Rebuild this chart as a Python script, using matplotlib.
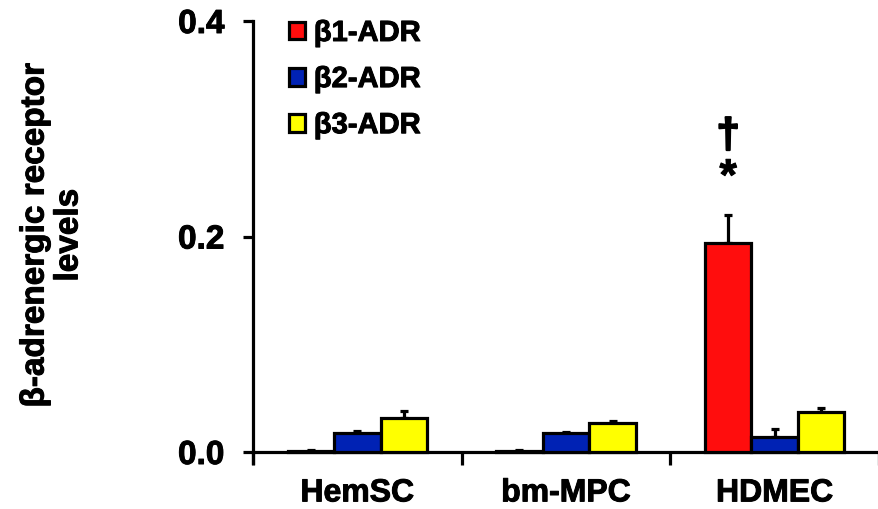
import matplotlib
matplotlib.use("Agg")
import matplotlib.pyplot as plt
from matplotlib.patches import Patch
import matplotlib.patheffects as pe
import numpy as np

categories = ["HemSC", "bm-MPC", "HDMEC"]
series = ["β1-ADR", "β2-ADR", "β3-ADR"]
colors = ["#ff0d0d", "#0022b4", "#ffff00"]
values = {
    "β1-ADR": [0.001, 0.001, 0.194],
    "β2-ADR": [0.018, 0.018, 0.0136],
    "β3-ADR": [0.032, 0.0266, 0.0368],
}
errors = {
    "β1-ADR": [0.0005, 0.0005, 0.026],
    "β2-ADR": [0.0015, 0.001, 0.008],
    "β3-ADR": [0.006, 0.002, 0.004],
}
yticks = [0.0, 0.2, 0.4]
ytick_labels = ["0.0", "0.2", "0.4"]

plt.rcParams["font.family"] = ["Liberation Sans", "DejaVu Sans"]
plt.rcParams["font.weight"] = "bold"
thick = [pe.withStroke(linewidth=0.7, foreground="black")]

W, H = 879, 510
fig = plt.figure(figsize=(W / 100, H / 100), dpi=100)
ymin = -0.01
px_per_unit = 1078.5
bottom_px = 453 + (-ymin) * px_per_unit
ax = fig.add_axes([253 / W, (H - bottom_px) / H, (W - 253) / W, (bottom_px - 22) / H])

bw = 0.223
x = np.arange(len(categories)) + 0.5
for k, s in enumerate(series):
    pos = x + (k - 1) * bw
    ax.bar(pos, values[s], width=bw, color=colors[k], edgecolor="black", linewidth=2.3, zorder=3)
    ax.errorbar(pos, values[s], yerr=[np.zeros(len(categories)), errors[s]], fmt="none",
                ecolor="black", elinewidth=2.3, capsize=3.0, capthick=2.3, zorder=2)

ax.set_xlim(0, (W - 253) / 210.5)
ax.set_ylim(ymin, 0.4)
ax.spines["top"].set_visible(False)
ax.spines["right"].set_visible(False)
ax.spines["bottom"].set_position(("data", 0))
ax.spines["bottom"].set_linewidth(2.3)
ax.spines["left"].set_linewidth(2.3)

ax.set_xticks([0, 1, 2, 3])
ax.set_xticklabels([])
ax.set_xticks(x, minor=True)
ax.set_xticklabels(categories, minor=True, fontsize=23, fontweight="bold")
ax.tick_params(axis="x", which="major", direction="out", length=9, width=2.3)
ax.tick_params(axis="x", which="minor", length=0, pad=19)
ax.set_yticks(yticks)
ax.set_yticklabels(ytick_labels, fontsize=24, fontweight="bold")
ax.tick_params(axis="y", direction="out", length=7.5, width=2.3, pad=13)
for t in ax.get_xticklabels(minor=True) + ax.get_yticklabels():
    t.set_path_effects(thick)

fig.text(52 / W, 1 - 236 / H, "β-adrenergic receptor\nlevels", rotation=90, ha="center", va="center",
         fontsize=24, fontweight="bold", linespacing=1.12, path_effects=thick)

# significance marks
ax.text(x[2] - bw, 0.293, "†", ha="center", va="center", fontsize=30, fontweight="bold",
        path_effects=[pe.withStroke(linewidth=1.5, foreground="black")])
ax.text(x[2] - bw, 0.254, "*", ha="center", va="center", fontsize=32, fontweight="bold",
        path_effects=thick)

handles = [Patch(facecolor=colors[k], edgecolor="black", linewidth=2.3, label=s) for k, s in enumerate(series)]
leg = fig.legend(handles=handles, loc="upper left", bbox_to_anchor=(289 / W, 1 - 20 / H),
                 frameon=False, fontsize=21, handlelength=0.55, handleheight=0.55,
                 handletextpad=0.3, labelspacing=0.62, borderpad=0, borderaxespad=0)
for t in leg.get_texts():
    t.set_fontweight("bold")
    t.set_path_effects(thick)

fig.savefig("out.png", dpi=100)
